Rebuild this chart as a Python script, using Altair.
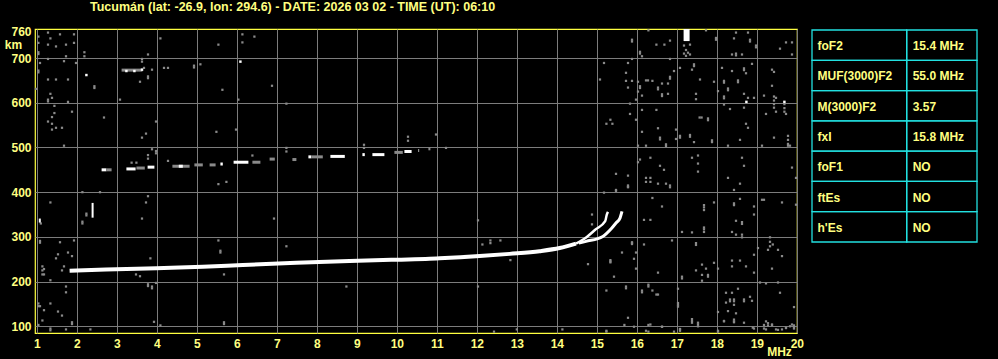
import altair as alt
import pandas as pd

TITLE = "Tucumán (lat: -26.9, lon: 294.6) - DATE: 2026 03 02 - TIME (UT): 06:10"

freq_ticks = list(range(1, 21))
height_ticks = [100, 200, 300, 400, 500, 600, 700, 760]

# main F-trace (ordinary) and its two cusps near the critical frequencies
trace_f = [1.82, 2.73, 3.99, 5.15, 6.15, 7.49, 8.82, 9.99, 10.82, 11.07, 12.07, 12.82, 13.57, 14.07, 14.48]
trace_h = [224, 227, 230, 233, 237, 242, 246, 249, 251, 252, 257, 262, 268, 275, 285]
otail_f = [14.48, 14.75, 14.96, 15.21, 15.25, 15.28]
otail_h = [285, 300, 316, 335, 350, 356]
xtail_f = [14.55, 14.73, 15.15, 15.36, 15.48, 15.58, 15.63]
xtail_h = [286, 290, 301, 318, 331, 342, 357]

# second-hop (2F) and third echo pieces: start freq, end freq, height, tone
seg_f0 = [2.62, 2.74, 3.24, 3.49, 3.77, 4.39, 4.55, 4.94, 5.32, 5.59, 5.92, 6.39, 6.82, 7.39, 7.79, 7.86, 8.34, 9.14, 9.39, 9.94, 10.19, 10.53, 10.79, 3.12]
seg_f1 = [2.74, 2.87, 3.47, 3.70, 3.94, 4.82, 4.65, 5.15, 5.47, 5.65, 6.29, 6.59, 6.95, 7.49, 7.86, 8.15, 8.70, 9.20, 9.69, 10.15, 10.37, 10.56, 10.84, 3.64]
seg_h = [450, 450, 452, 454, 456, 458, 458, 461, 461, 463, 467, 467, 474, 473, 479, 479, 480, 484, 484, 489, 491, 493, 497, 673]
seg_tone = ["w", "g", "w", "g", "w", "g", "w", "g", "g", "w", "w", "g", "g", "g", "w", "g", "w", "w", "w", "g", "w", "g", "g", "g"]

# small white blocks
blk_f0 = [1.05, 2.37, 17.17]
blk_f1 = [1.10, 2.42, 17.32]
blk_h0 = [332, 343, 738]
blk_h1 = [341, 376, 765]
white_f = [2.24, 6.09, 18.74, 19.69, 3.24, 3.44, 3.63]
white_h = [662, 692, 602, 602, 671, 671, 674]

# grey noise speckles
noise = [
    (1.28, 757), (1.58, 753), (1.93, 753), (1.04, 748), (1.34, 744), (1.04, 734), (1.28, 730), (1.48, 726),
    (1.73, 730), (1.93, 734), (1.04, 713), (1.04, 709), (2.19, 713), (2.19, 704), (1.73, 704), (1.68, 693),
    (1.28, 698), (1.08, 689), (1.98, 689), (1.04, 672), (1.04, 668), (1.28, 652), (1.48, 652), (1.78, 652),
    (2.44, 637), (2.44, 633), (0.98, 631), (1.34, 620), (1.38, 611), (1.28, 607), (1.28, 603), (1.78, 602),
    (1.44, 593), (1.88, 580), (1.44, 577), (1.38, 568), (1.28, 558), (1.38, 553), (1.48, 544), (1.63, 544),
    (1.38, 540), (2.68, 567), (1.68, 504), (4.09, 744), (3.78, 708), (3.63, 698), (3.63, 692), (3.68, 678),
    (3.88, 674), (3.78, 659), (3.78, 655), (4.18, 678), (4.28, 678), (3.58, 647), (3.08, 607), (3.98, 558),
    (3.73, 531), (3.63, 522), (4.93, 683), (4.93, 679), (5.09, 686), (5.54, 730), (6.14, 753), (6.14, 735),
    (6.44, 748), (5.64, 629), (6.04, 607), (6.88, 638), (7.24, 598), (5.49, 535), (5.98, 540),
    (3.78, 483), (3.78, 475), (3.88, 496), (3.98, 492), (3.98, 487), (3.37, 466), (3.49, 466), (4.28, 470),
    (6.39, 482), (7.24, 499), (7.24, 491), (9.18, 506), (9.18, 499), (10.28, 524), (10.28, 515), (10.98, 529),
    (11.23, 499), (5.54, 418), (5.74, 423),
    (1.10, 330), (1.08, 291), (1.08, 287), (1.58, 288), (1.53, 261), (1.78, 265), (1.48, 252), (1.68, 234),
    (1.88, 257), (1.14, 234), (1.14, 225), (1.14, 216), (1.18, 228), (1.18, 216), (1.63, 225), (1.73, 189),
    (1.73, 176), (1.04, 151), (1.04, 145), (1.08, 145), (1.34, 151), (1.18, 136), (1.53, 133), (1.63, 124),
    (1.04, 103), (1.14, 113), (1.34, 91), (1.34, 95), (1.73, 93), (1.88, 109), (1.88, 105), (2.34, 93),
    (3.93, 110), (4.09, 102), (5.68, 109), (5.68, 105), (12.43, 88),
    (2.14, 400), (2.58, 400), (1.34, 377), (2.24, 352), (2.24, 348), (2.14, 334), (2.14, 330), (3.78, 391),
    (3.73, 377), (3.63, 341), (6.93, 341), (5.54, 292), (5.59, 269), (5.59, 265), (7.24, 279), (3.84, 252),
    (3.48, 216), (3.58, 212), (5.68, 216), (1.34, 203), (3.78, 194), (3.78, 190), (3.88, 189), (3.88, 185),
    (3.98, 197), (8.74, 189), (1.93, 292),
    (12.03, 337), (12.14, 283), (12.34, 292), (12.34, 286), (12.59, 292), (12.84, 248), (12.03, 189),
    (14.88, 350), (14.88, 328), (14.78, 239), (15.34, 248), (15.34, 243), (15.48, 405), (15.88, 288),
    (15.88, 284), (15.98, 265),
    (13.0, 93), (14.14, 93), (15.24, 88), (15.69, 103), (15.93, 99), (16.29, 103), (16.29, 88), (16.63, 99),
    (16.93, 88), (17.08, 93), (17.38, 112), (17.38, 108), (17.53, 100), (18.03, 88), (18.18, 112), (18.43, 109),
    (18.90, 97), (19.18, 103), (19.28, 107), (19.38, 103), (19.23, 93), (19.48, 93), (19.63, 93), (19.73, 97),
    (19.83, 100), (19.93, 102), (19.93, 95),
    (16.29, 762), (15.88, 741), (15.88, 737), (16.49, 730), (16.69, 730), (16.83, 739), (17.73, 762),
    (17.98, 745), (17.98, 741), (18.48, 757), (18.78, 757), (18.43, 744), (18.83, 741), (18.83, 737),
    (18.98, 728), (18.98, 724), (19.73, 735), (19.88, 735), (19.58, 721), (19.88, 708), (18.38, 708),
    (18.48, 710), (18.48, 706), (18.63, 708), (16.08, 714), (16.08, 710), (16.13, 704), (15.18, 689),
    (15.78, 689), (15.88, 698), (16.83, 698), (17.08, 678), (17.43, 686), (17.43, 682), (17.38, 674),
    (16.93, 671), (16.83, 658), (16.83, 654), (15.73, 667), (15.08, 652), (15.73, 649), (15.88, 649),
    (16.03, 647), (16.23, 650), (16.28, 650), (16.39, 649), (16.08, 637), (16.08, 633), (15.78, 634),
    (16.53, 634), (16.53, 630), (16.63, 643), (16.78, 643), (16.03, 625), (16.13, 616), (16.63, 619),
    (16.63, 615), (16.78, 620), (15.98, 607), (17.58, 652), (17.93, 647), (18.18, 649), (18.18, 645),
    (18.28, 632), (18.28, 628), (18.53, 650), (18.53, 646), (18.68, 677), (18.68, 673), (18.73, 666),
    (18.88, 687), (18.38, 671), (18.13, 678), (18.03, 626), (18.18, 614), (18.18, 610), (17.48, 620),
    (17.48, 608), (18.68, 620), (18.78, 611), (18.18, 596), (18.33, 586), (18.68, 589), (18.93, 611),
    (19.18, 616), (19.38, 674), (19.43, 669), (19.38, 638), (19.48, 611), (19.43, 614), (19.43, 605),
    (19.43, 597), (19.43, 589), (19.69, 597), (19.69, 588), (19.69, 580), (19.48, 580), (19.73, 575),
    (19.23, 575), (15.83, 598), (16.13, 584), (16.49, 584), (15.83, 575), (15.34, 562), (15.24, 553),
    (15.39, 553), (15.98, 562), (16.13, 535), (16.53, 543), (16.58, 522), (16.58, 518), (16.98, 540),
    (17.08, 526), (17.08, 522), (16.98, 519), (17.33, 528), (17.33, 524), (17.43, 512), (16.73, 507),
    (16.73, 503), (16.23, 504), (16.03, 504), (17.57, 567), (17.62, 567), (17.78, 565), (17.78, 561),
    (17.88, 516), (17.88, 512), (18.28, 504), (18.58, 517), (18.73, 553), (18.78, 544), (19.13, 504),
    (19.43, 522), (19.78, 526), (19.78, 517), (19.78, 508), (19.78, 504), (19.83, 504),
    (16.08, 473), (16.03, 467), (16.34, 477), (16.58, 459), (16.68, 450), (17.38, 477), (17.53, 482),
    (17.53, 464), (17.53, 446), (15.48, 441), (15.78, 437), (15.78, 415), (15.78, 411), (16.23, 432),
    (16.34, 432), (16.23, 423), (16.34, 423), (16.53, 419), (16.73, 419), (16.83, 415), (16.83, 411),
    (18.28, 432), (18.63, 477), (18.68, 459), (18.58, 419), (19.88, 455), (19.98, 432),
    (17.18, 728), (17.33, 730), (17.23, 718), (17.28, 712), (17.18, 710), (17.33, 708), (17.23, 705),
    (15.78, 412), (15.48, 403), (15.18, 399), (16.39, 387), (16.63, 368), (16.18, 338), (16.34, 338),
    (17.68, 371), (17.68, 366), (17.68, 360), (17.93, 377), (18.43, 405), (18.58, 385), (18.43, 375),
    (18.43, 371), (18.93, 368), (18.93, 350), (19.13, 383), (19.18, 383), (19.63, 377), (19.98, 372),
    (18.63, 333), (18.63, 329), (18.48, 336), (17.68, 321), (17.68, 317), (17.68, 311), (17.13, 311),
    (17.38, 310), (18.38, 311), (18.48, 305), (18.63, 305), (18.63, 299), (19.33, 299), (19.33, 289),
    (19.33, 279), (19.03, 275), (19.28, 271), (19.53, 271), (19.63, 257), (19.40, 283), (18.93, 260),
    (18.93, 220), (15.88, 286), (16.18, 283), (16.88, 292), (17.48, 286), (17.48, 282), (15.63, 265),
    (15.93, 251), (15.34, 245), (15.98, 229), (15.43, 211), (16.53, 220), (17.13, 211), (17.13, 207),
    (17.63, 238), (17.73, 229), (17.48, 225), (17.63, 215), (17.78, 215), (17.78, 211), (17.93, 242),
    (17.63, 202), (18.03, 229), (18.38, 247), (18.38, 234), (18.58, 247), (18.73, 234), (19.38, 229),
    (16.29, 193), (16.29, 189), (15.73, 189), (15.73, 185), (16.13, 180), (16.13, 176), (16.39, 180),
    (16.49, 171), (16.53, 171), (15.24, 180), (17.03, 184), (17.03, 152), (17.03, 148), (17.03, 144),
    (15.78, 119), (16.34, 104), (16.63, 99), (17.38, 116), (17.53, 104), (17.53, 108), (17.08, 90),
    (17.08, 94), (18.03, 132), (18.23, 175), (18.38, 175), (18.53, 184), (18.23, 153), (18.43, 148),
    (18.68, 156), (18.68, 160), (18.83, 166), (18.88, 157), (18.28, 134), (18.48, 129), (18.18, 111),
    (18.43, 111), (18.43, 115), (18.68, 108), (19.23, 196), (19.53, 198), (19.58, 175), (19.08, 198),
    (19.93, 143), (19.88, 104), (19.23, 111), (19.28, 102), (19.18, 95), (19.38, 104), (19.53, 92),
    (19.73, 96), (19.93, 98), (16.23, 90), (15.24, 90), (18.93, 95), (18.03, 90), (18.33, 160),
    (18.43, 160), (18.33, 156), (18.43, 156),
]
noise_f = [p[0] for p in noise]
noise_h = [p[1] for p in noise]

# parameter table
params = ["foF2", "MUF(3000)F2", "M(3000)F2", "fxI", "foF1", "ftEs", "h'Es"]
param_values = ["15.4 MHz", "55.0 MHz", "3.57", "15.8 MHz", "NO", "NO", "NO"]

# ---------------- styling ----------------
FONT = "Liberation Sans"
YEL = "#ffff80"
BORDER = "#ffff40"
GRID = "#7c7c7c"
NOISE = "#8a8a8a"
CYAN = "#22e0e0"

xs = alt.Scale(domain=[0.955, 20.005], nice=False, zero=False)
ys = alt.Scale(domain=[85, 765], nice=False, zero=False)

xaxis = alt.Axis(
    values=freq_ticks, format="d", grid=True, gridColor=GRID, gridWidth=1,
    ticks=False, domain=False, labelColor=YEL, labelFont=FONT, labelFontWeight="bold",
    labelFontSize=12, labelPadding=5, labelAngle=0, labelFlush=False, labelOverlap=False,
    title="MHz", titleColor=YEL, titleFont=FONT, titleFontWeight="bold", titleFontSize=12,
    titleX=744, titleY=22, titleAlign="center", titleBaseline="alphabetic", titleAnchor="start",
)
yaxis = alt.Axis(
    values=height_ticks, format="d", grid=True, gridColor=GRID, gridWidth=1,
    gridOpacity={"condition": {"test": "datum.value === 760", "value": 0}, "value": 1},
    ticks=False, domain=False, labelColor=YEL, labelFont=FONT, labelFontWeight="bold",
    labelFontSize=12, labelPadding=4, labelFlush=False, labelOverlap=False,
    title="km", titleColor=YEL, titleFont=FONT, titleFontWeight="bold", titleFontSize=12,
    titleAngle=0, titleX=-22, titleY=19, titleAlign="center", titleBaseline="alphabetic",
    titleAnchor="start",
)

def X(field):
    return alt.X(field, type="quantitative", scale=xs, axis=xaxis)

def Y(field):
    return alt.Y(field, type="quantitative", scale=ys, axis=yaxis)

noise_df = pd.DataFrame({"f": noise_f, "h": noise_h})
noise_layer = alt.Chart(noise_df).mark_square(size=5, color=NOISE, opacity=1).encode(x=X("f"), y=Y("h"))

seg_df = pd.DataFrame({"f0": seg_f0, "f1": seg_f1, "h": seg_h, "tone": seg_tone})
seg_layer = alt.Chart(seg_df).mark_rule(strokeWidth=3).encode(
    x=X("f0"), x2="f1", y=Y("h"),
    color=alt.Color("tone:N", scale=alt.Scale(domain=["w", "g"], range=["#ffffff", "#8a8a8a"]), legend=None),
)

trace_df = pd.DataFrame({"f": trace_f, "h": trace_h})
trace_layer = alt.Chart(trace_df).mark_line(color="white", strokeWidth=4, interpolate="monotone").encode(
    x=X("f"), y=Y("h"))
otail_layer = alt.Chart(pd.DataFrame({"f": otail_f, "h": otail_h})).mark_line(
    color="white", strokeWidth=2.5, interpolate="monotone").encode(x=X("f"), y=Y("h"))
xtail_layer = alt.Chart(pd.DataFrame({"f": xtail_f, "h": xtail_h})).mark_line(
    color="white", strokeWidth=3, interpolate="monotone").encode(x=X("f"), y=Y("h"))

blk_df = pd.DataFrame({"f0": blk_f0, "f1": blk_f1, "h0": blk_h0, "h1": blk_h1})
blk_layer = alt.Chart(blk_df).mark_rect(color="white").encode(x=X("f0"), x2="f1", y=Y("h0"), y2="h1")
white_layer = alt.Chart(pd.DataFrame({"f": white_f, "h": white_h})).mark_square(
    size=6, color="white", opacity=1).encode(x=X("f"), y=Y("h"))

iono = alt.layer(noise_layer, seg_layer, trace_layer, otail_layer, xtail_layer, blk_layer, white_layer)

# ---- table (own scales, placed to the right of the plot) ----
tx = alt.Scale(domain=[0, 165], range=[777, 942], nice=False, zero=False)
ty = alt.Scale(domain=[0, 7], range=[1, 213], nice=False, zero=False)
DIV = 94.7
cells = []
for i in range(len(params)):
    cells.append({"r0": i, "r1": i + 1, "c0": 0, "c1": DIV})
    cells.append({"r0": i, "r1": i + 1, "c0": DIV, "c1": 165})
cell_layer = alt.Chart(pd.DataFrame(cells)).mark_rect(
    fillOpacity=0, stroke=CYAN, strokeWidth=1.3).encode(
    x=alt.X("c0:Q", scale=tx, axis=None), x2="c1:Q",
    y=alt.Y("r0:Q", scale=ty, axis=None), y2="r1:Q")

tbl_df = pd.DataFrame({"param": params, "val": param_values,
                       "r": [i + 0.5 for i in range(len(params))]})
tbl_df["lx"] = 5.5
tbl_df["vx"] = DIV + 6
txt_common = dict(align="left", baseline="middle", dy=1, font=FONT, fontSize=12,
                  fontWeight="bold", color=YEL)
ptxt = alt.Chart(tbl_df).mark_text(**txt_common).encode(
    x=alt.X("lx:Q", scale=tx, axis=None), y=alt.Y("r:Q", scale=ty, axis=None), text="param:N")
vtxt = alt.Chart(tbl_df).mark_text(**txt_common).encode(
    x=alt.X("vx:Q", scale=tx, axis=None), y=alt.Y("r:Q", scale=ty, axis=None), text="val:N")
table = alt.layer(cell_layer, ptxt, vtxt)

chart = alt.layer(iono, table).resolve_scale(x="independent", y="independent").properties(
    width=762, height=304,
    title=alt.TitleParams(TITLE, anchor="start", frame="group", dx=55, offset=12,
                          color=YEL, font=FONT, fontSize=12.5, fontWeight="bold"),
    autosize=alt.AutoSizeParams(type="none"),
    padding={"left": 35, "top": 29, "right": 201, "bottom": 26},
).configure(background="black").configure_view(stroke=BORDER, strokeWidth=1.2, fill="black")

chart.save("out.html", embed_options={"renderer": "svg", "actions": False})
